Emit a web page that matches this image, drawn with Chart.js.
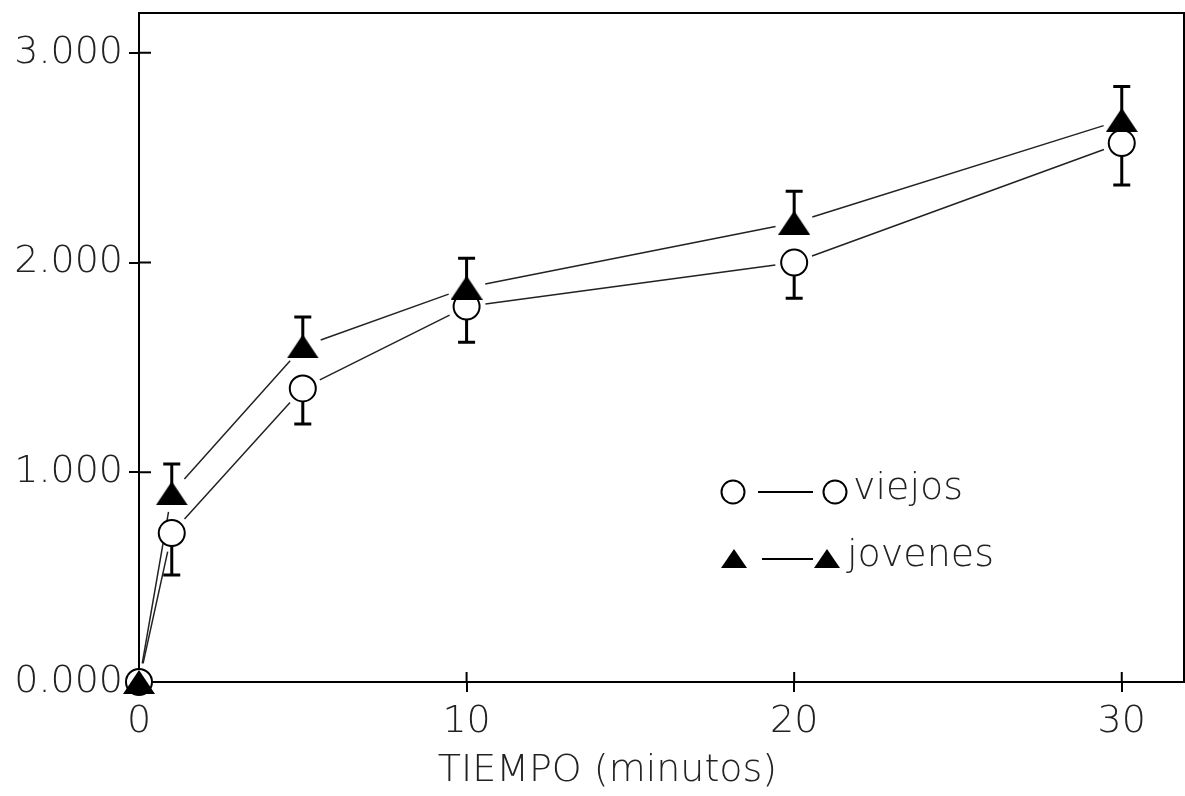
<!DOCTYPE html>
<html>
<head>
<meta charset="utf-8">
<script src="https://cdn.jsdelivr.net/npm/chart.js@4/dist/chart.umd.min.js"></script>
<style>
html, body { margin: 0; padding: 0; background: #fff; }
#wrap { width: 1185px; height: 796px; }
</style>
</head>
<body>
<div id="wrap"><canvas id="grafico" width="1185" height="796"></canvas></div>
<script>
// datos
const tiempo = [0, 1, 5, 10, 20, 30];
const viejos = [0, 0.71, 1.40, 1.79, 2.00, 2.57];
const viejosErr = [0, 0.20, 0.17, 0.17, 0.17, 0.20];
const jovenes = [0, 0.90, 1.60, 1.88, 2.19, 2.68];
const jovenesErr = [0, 0.14, 0.14, 0.14, 0.15, 0.16];
const xTicks = [0, 10, 20, 30];
const yTicks = [0, 1, 2, 3];
const tituloX = 'TIEMPO (minutos)';

const tinta = '#222';
const fuente = { family: 'DejaVu Sans', size: 38, weight: 200 };
const fuenteCss = '200 38px "DejaVu Sans"';

function triangulo(w, h) {
  const c = document.createElement('canvas');
  c.width = w; c.height = h;
  const g = c.getContext('2d');
  g.fillStyle = '#000';
  g.beginPath();
  g.moveTo(w / 2, 0);
  g.lineTo(w, h);
  g.lineTo(0, h);
  g.closePath();
  g.fill();
  return c;
}
const triGrande = triangulo(32, 24);

function pares(ys) {
  return tiempo.map((t, i) => ({ x: t, y: ys[i] }));
}

// lineas con hueco, barras de error y marco
const extras = {
  id: 'extras',
  beforeDatasetsDraw(chart) {
    const ctx = chart.ctx, xs = chart.scales.x, ys = chart.scales.y;
    const a = chart.chartArea;
    ctx.save();
    ctx.strokeStyle = '#000';

    // marco
    ctx.lineWidth = 2;
    ctx.strokeRect(a.left, a.top, a.right - a.left, a.bottom - a.top);
    // marcas hacia dentro
    ctx.beginPath();
    yTicks.forEach(v => {
      const y = ys.getPixelForValue(v);
      ctx.moveTo(a.left, y); ctx.lineTo(a.left + 12, y);
    });
    xTicks.forEach(v => {
      const x = xs.getPixelForValue(v);
      ctx.moveTo(x, a.bottom); ctx.lineTo(x, a.bottom - 10);
    });
    ctx.stroke();

    // titulo del eje x (desplazado a la izquierda como en el original)
    ctx.fillStyle = tinta;
    ctx.font = fuenteCss;
    ctx.textAlign = 'center';
    ctx.textBaseline = 'middle';
    ctx.fillText(tituloX, xs.getPixelForValue(14.3), 771);

    // lineas entre puntos
    const hueco = 19;
    ctx.lineWidth = 1.5;
    ctx.strokeStyle = '#222';
    [viejos, jovenes].forEach(serie => {
      ctx.beginPath();
      for (let i = 0; i < tiempo.length - 1; i++) {
        const x1 = xs.getPixelForValue(tiempo[i]), y1 = ys.getPixelForValue(serie[i]);
        const x2 = xs.getPixelForValue(tiempo[i + 1]), y2 = ys.getPixelForValue(serie[i + 1]);
        const d = Math.hypot(x2 - x1, y2 - y1);
        const ux = (x2 - x1) / d, uy = (y2 - y1) / d;
        ctx.moveTo(x1 + ux * hueco, y1 + uy * hueco);
        ctx.lineTo(x2 - ux * hueco, y2 - uy * hueco);
      }
      ctx.stroke();
    });

    // barras de error
    ctx.lineWidth = 3;
    ctx.strokeStyle = '#000';
    const barra = (serie, err, signo) => {
      for (let i = 0; i < tiempo.length; i++) {
        if (!err[i]) continue;
        const x = xs.getPixelForValue(tiempo[i]);
        const y0 = ys.getPixelForValue(serie[i]);
        const y1 = ys.getPixelForValue(serie[i] + signo * err[i]);
        ctx.beginPath();
        ctx.moveTo(x, y0); ctx.lineTo(x, y1);
        ctx.moveTo(x - 8.5, y1); ctx.lineTo(x + 8.5, y1);
        ctx.stroke();
      }
    };
    barra(viejos, viejosErr, -1);
    barra(jovenes, jovenesErr, 1);
    ctx.restore();
  },
  afterDatasetsDraw(chart) {
    // leyenda dentro del grafico
    const ctx = chart.ctx;
    ctx.save();
    ctx.strokeStyle = '#000';
    ctx.font = fuenteCss;
    ctx.textBaseline = 'middle';

    let y = 492;
    ctx.lineWidth = 2;
    ctx.fillStyle = '#fff';
    [733, 835].forEach(x => {
      ctx.beginPath(); ctx.arc(x, y, 11.5, 0, Math.PI * 2); ctx.fill(); ctx.stroke();
    });
    ctx.beginPath(); ctx.moveTo(758, y); ctx.lineTo(813, y); ctx.stroke();
    ctx.fillStyle = tinta;
    ctx.fillText('viejos', 853, y - 3);

    y = 559;
    const t = triangulo(26, 19);
    ctx.drawImage(t, 734 - 13, y - 10);
    ctx.drawImage(t, 827 - 13, y - 10);
    ctx.beginPath(); ctx.moveTo(762, y); ctx.lineTo(813, y); ctx.stroke();
    ctx.fillText('jovenes', 847, y - 3);
    ctx.restore();
  }
};

new Chart(document.getElementById('grafico'), {
  type: 'scatter',
  data: {
    datasets: [{
      label: 'viejos',
      data: pares(viejos),
      order: 1,
      pointStyle: 'circle',
      pointRadius: 13,
      pointBorderWidth: 2,
      pointBorderColor: '#000',
      pointBackgroundColor: '#fff',
      clip: false
    }, {
      label: 'jovenes',
      data: pares(jovenes),
      order: 0,
      pointStyle: triGrande,
      pointRadius: 14,
      clip: false
    }]
  },
  options: {
    responsive: false,
    animation: false,
    events: [],
    layout: { autoPadding: false, padding: { top: 13, right: 1, left: 0, bottom: 0 } },
    plugins: { legend: { display: false }, tooltip: { enabled: false } },
    scales: {
      x: {
        type: 'linear',
        min: 0,
        max: 31.9,
        afterFit(s) { s.height = 114; s.paddingLeft = 0; s.paddingRight = 0; },
        afterBuildTicks(s) { s.ticks = xTicks.map(v => ({ value: v })); },
        border: { display: false },
        grid: { drawOnChartArea: false, drawTicks: true, tickLength: 10, color: '#000', lineWidth: 2 },
        ticks: { color: tinta, font: fuente, padding: 7, maxRotation: 0 }
      },
      y: {
        type: 'linear',
        min: 0,
        max: 3.19,
        afterFit(s) { s.width = 139; s.paddingTop = 0; s.paddingBottom = 0; },
        afterBuildTicks(s) { s.ticks = yTicks.map(v => ({ value: v })); },
        border: { display: false },
        grid: { drawOnChartArea: false, drawTicks: true, tickLength: 10, color: '#000', lineWidth: 2 },
        ticks: { color: tinta, font: fuente, padding: 6, callback: v => v.toFixed(3) }
      }
    }
  },
  plugins: [extras]
});
</script>
</body>
</html>
